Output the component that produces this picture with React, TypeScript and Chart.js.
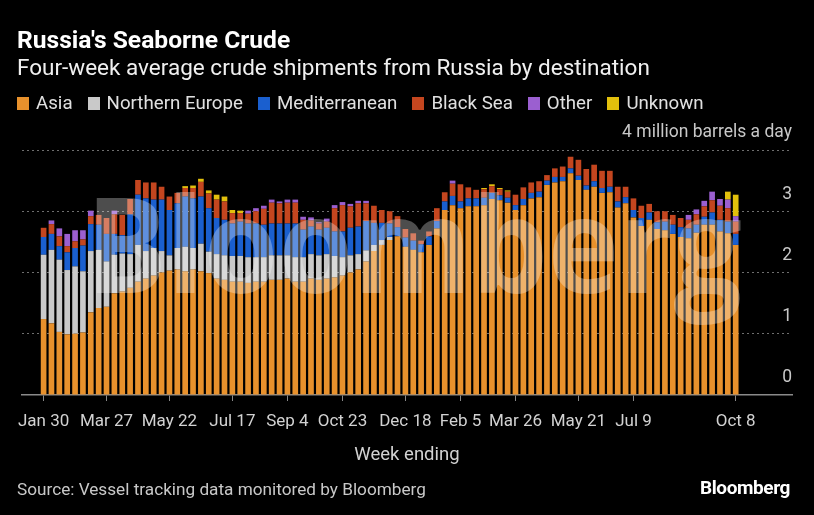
import React, { useEffect, useRef } from "react";
import { Chart, registerables } from "chart.js";

Chart.register(...registerables);

const FONT = "Roboto, 'Noto Sans', sans-serif";

// Week-ending dates (weekly, Jan 30 2022 .. Oct 8 2023)
const firstWeekEnding = "2022-01-30";
const weekCount = 89;
const weeks: string[] = [];
for (let i = 0; i < weekCount; i++) {
  const d = new Date(firstWeekEnding + "T00:00:00Z");
  d.setUTCDate(d.getUTCDate() + 7 * i);
  weeks.push(d.toISOString().slice(0, 10));
}

const tickIndex = [0, 8, 16, 24, 31, 38, 46, 53, 60, 68, 75, 88];
const tickLabels = ["Jan 30", "Mar 27", "May 22", "Jul 17", "Sep 4", "Oct 23", "Dec 18", "Feb 5", "Mar 26", "May 21", "Jul 9", "Oct 8"];
const yTicks = [0, 1, 2, 3, 4];

const seriesNames = ["Asia", "Northern Europe", "Mediterranean", "Black Sea", "Other", "Unknown"];
const seriesColors = ["#e8912c", "#c9c9c9", "#1a5fcf", "#c4461f", "#9b5fd0", "#e2c00c"];

const asia = [
  1.24, 1.17, 1.03, 0.99, 1.0, 1.02, 1.35, 1.42, 1.44, 1.66, 1.69,
  1.75, 1.85, 1.9, 1.95, 2.0, 2.03, 2.05, 2.02, 2.05, 2.02, 1.99,
  1.9, 1.88, 1.85, 1.85, 1.83, 1.85, 1.85, 1.88, 1.88, 1.9, 1.85, 1.85,
  1.9, 1.88, 1.9, 1.92, 1.95, 2.0, 2.05, 2.18, 2.35, 2.45, 2.53,
  2.59, 2.42, 2.37, 2.33, 2.45, 2.72, 3.02, 3.1, 3.05, 3.08, 3.08, 3.1,
  3.2, 3.18, 3.14, 3.02, 3.1, 3.21, 3.23, 3.43, 3.47, 3.49, 3.62,
  3.51, 3.35, 3.4, 3.3, 3.31, 3.06, 3.13, 2.9, 2.76, 2.86, 2.71,
  2.69, 2.63, 2.58, 2.56, 2.65, 2.78, 2.78, 2.67, 2.64, 2.45,
];
const northernEurope = [
  1.05, 1.2, 1.18, 1.05, 1.1, 1.0, 1.0, 0.95, 0.74, 0.63, 0.62,
  0.55, 0.6, 0.45, 0.45, 0.35, 0.25, 0.35, 0.4, 0.35, 0.45, 0.35,
  0.4, 0.4, 0.42, 0.42, 0.42, 0.4, 0.4, 0.4, 0.4, 0.38, 0.4, 0.4,
  0.4, 0.4, 0.4, 0.35, 0.3, 0.28, 0.25, 0.18, 0.1, 0.08, 0.05,
  0, 0, 0, 0, 0, 0, 0, 0, 0, 0, 0, 0,
  0, 0, 0, 0, 0, 0, 0, 0, 0, 0, 0,
  0, 0, 0, 0, 0, 0, 0, 0, 0, 0, 0,
  0, 0, 0, 0, 0, 0, 0, 0, 0, 0,
];
const mediterranean = [
  0.29, 0.26, 0.22, 0.29, 0.3, 0.42, 0.44, 0.41, 0.45, 0.34, 0.3,
  0.65, 0.82, 0.86, 0.79, 0.84, 0.74, 0.73, 0.82, 0.81, 0.77, 0.71,
  0.59, 0.58, 0.53, 0.56, 0.55, 0.55, 0.53, 0.52, 0.52, 0.52, 0.55, 0.45,
  0.45, 0.42, 0.43, 0.4, 0.42, 0.45, 0.45, 0.48, 0.36, 0.28, 0.22,
  0.15, 0.15, 0.15, 0.13, 0.14, 0.12, 0.14, 0.15, 0.11, 0.13, 0.13, 0.12,
  0.1, 0.08, 0.08, 0.08, 0.1, 0.09, 0.09, 0.07, 0.09, 0.07, 0.08,
  0.07, 0.07, 0.09, 0.08, 0.09, 0.1, 0.1, 0.12, 0.13, 0.12, 0.11,
  0.14, 0.15, 0.16, 0.16, 0.13, 0.13, 0.2, 0.19, 0.19, 0.18,
];
const blackSea = [
  0.15, 0.16, 0.16, 0.1, 0.11, 0.1, 0.13, 0.16, 0.26, 0.32, 0.33,
  0.25, 0.24, 0.26, 0.28, 0.21, 0.22, 0.17, 0.14, 0.17, 0.24, 0.24,
  0.3, 0.3, 0.17, 0.14, 0.16, 0.2, 0.26, 0.34, 0.33, 0.34, 0.34, 0.16,
  0.1, 0.1, 0.1, 0.38, 0.43, 0.35, 0.38, 0.29, 0.28, 0.21, 0.2,
  0.18, 0.14, 0.12, 0.06, 0.08, 0.21, 0.15, 0.2, 0.28, 0.18, 0.14, 0.14,
  0.11, 0.1, 0.1, 0.17, 0.19, 0.17, 0.17, 0.09, 0.14, 0.17, 0.19,
  0.26, 0.27, 0.27, 0.28, 0.26, 0.24, 0.17, 0.19, 0.2, 0.14, 0.18,
  0.17, 0.16, 0.15, 0.14, 0.17, 0.17, 0.2, 0.23, 0.22, 0.2,
];
const other = [
  0, 0.06, 0.13, 0.2, 0.18, 0.15, 0.09, 0, 0, 0.06, 0,
  0, 0, 0, 0, 0, 0, 0, 0, 0, 0, 0,
  0, 0, 0, 0, 0.05, 0.05, 0.05, 0.05, 0.03, 0.05, 0.05, 0.05,
  0.05, 0.02, 0.05, 0.05, 0.05, 0.04, 0.04, 0.04, 0, 0, 0,
  0, 0, 0, 0, 0, 0, 0, 0.05, 0, 0, 0, 0,
  0, 0, 0, 0, 0, 0, 0, 0, 0, 0, 0,
  0, 0, 0, 0, 0, 0, 0, 0, 0, 0, 0,
  0, 0, 0, 0.08, 0.08, 0.09, 0.14, 0.11, 0.14, 0.09,
];
const unknown = [
  0, 0, 0, 0, 0, 0, 0, 0, 0, 0, 0,
  0, 0, 0, 0, 0, 0, 0, 0.03, 0.04, 0.05, 0.05,
  0.08, 0.08, 0.05, 0.04, 0, 0, 0, 0, 0, 0, 0, 0,
  0, 0, 0, 0, 0, 0, 0, 0, 0, 0, 0,
  0, 0, 0, 0, 0, 0, 0, 0, 0, 0, 0, 0.02,
  0.03, 0.02, 0.02, 0, 0, 0, 0, 0, 0, 0, 0,
  0, 0, 0, 0, 0, 0, 0, 0, 0, 0, 0,
  0, 0, 0, 0, 0, 0, 0, 0, 0.13, 0.35,
];

const watermarkPlugin = {
  id: "bbgWatermark",
  afterDatasetsDraw(chart: any) {
    const { ctx } = chart;
    ctx.save();
    ctx.font = "bold 133px 'Open Sans'";
    const w = ctx.measureText("Bloomberg").width;
    ctx.translate(86, 293);
    ctx.scale(656 / w, 1);
    ctx.fillStyle = "rgba(255,255,255,0.3)";
    ctx.textBaseline = "alphabetic";
    ctx.fillText("Bloomberg", 0, 0);
    ctx.restore();
  },
};

export default function App() {
  const ref = useRef<HTMLCanvasElement>(null);

  useEffect(() => {
    document.body.style.margin = "0";
    document.body.style.background = "#000";
    const series = [asia, northernEurope, mediterranean, blackSea, other, unknown];
    const chart = new Chart(ref.current as HTMLCanvasElement, {
      type: "bar",
      data: {
        datasets: series.map((vals, s) => ({
          label: seriesNames[s],
          data: vals.map((v, i) => ({ x: i, y: v, week: weeks[i] })),
          backgroundColor: seriesColors[s],
          borderWidth: 0,
          barPercentage: 0.72,
          categoryPercentage: 1,
        })),
      } as any,
      options: {
        animation: false,
        responsive: false,
        maintainAspectRatio: false,
        layout: { padding: { left: 22, right: 22, top: 150, bottom: 0 } },
        plugins: { legend: { display: false }, tooltip: { enabled: false } },
        scales: {
          x: {
            type: "linear",
            stacked: true,
            offset: false,
            min: -2.746,
            max: 95.158,
            afterBuildTicks: (s: any) => {
              s.ticks = tickIndex.map((v) => ({ value: v }));
            },
            afterFit: (s: any) => {
              s.height = 120;
            },
            ticks: {
              autoSkip: false,
              maxRotation: 0,
              minRotation: 0,
              color: "#d2d2d2",
              padding: 11,
              font: { family: FONT, size: 17 },
              callback: (v: any) => {
                const k = tickIndex.indexOf(Number(v));
                return k >= 0 ? tickLabels[k] : "";
              },
            },
            grid: {
              display: true,
              offset: false,
              drawOnChartArea: false,
              drawTicks: true,
              tickLength: 6,
              color: "#8a8a8a",
              lineWidth: 1,
            },
            border: { display: true, color: "#8a8a8a", width: 1.5 },
            title: {
              display: true,
              text: "Week ending",
              color: "#d2d2d2",
              font: { family: FONT, size: 18.5 },
              padding: { top: 0, bottom: 49 },
            },
          },
          y: {
            position: "right",
            stacked: true,
            min: 0,
            max: 4,
            afterBuildTicks: (s: any) => {
              s.ticks = yTicks.map((v) => ({ value: v }));
            },
            afterFit: (s: any) => {
              s.width = 0;
            },
            ticks: {
              mirror: true,
              padding: 0,
              labelOffset: -17,
              color: "#c8c8c8",
              font: { family: FONT, size: 17.5 },
              callback: (v: any) => (Number(v) === 4 ? "4 million barrels a day" : String(v)),
            },
            grid: {
              drawTicks: false,
              color: (c: any) => (c.tick && c.tick.value === 0 ? "rgba(0,0,0,0)" : "#6e6e6e"),
              lineWidth: 1,
            },
            border: { display: false, dash: [2, 3] },
          },
        },
      } as any,
      plugins: [watermarkPlugin],
    });
    return () => chart.destroy();
  }, []);

  return (
    <div style={{ position: "relative", width: 814, height: 515, background: "#000", overflow: "hidden", fontFamily: FONT }}>
      <canvas ref={ref} width={814} height={515} style={{ position: "absolute", left: 0, top: 0 }} />
      <div style={{ position: "absolute", left: 17, top: 28, fontSize: 24.6, fontWeight: 700, color: "#fff", lineHeight: 1 }}>
        Russia's Seaborne Crude
      </div>
      <div style={{ position: "absolute", left: 17, top: 56, fontSize: 22.5, color: "#f0f0f0", lineHeight: 1 }}>
        Four-week average crude shipments from Russia by destination
      </div>
      <div style={{ position: "absolute", left: 17, top: 94, display: "flex", alignItems: "center", fontSize: 18.7, color: "#e0e0e0", lineHeight: 1 }}>
        {seriesNames.map((n, i) => (
          <div key={n} style={{ display: "flex", alignItems: "center", marginRight: 15 }}>
            <span style={{ width: 12, height: 13, background: seriesColors[i], display: "inline-block", marginRight: 7 }} />
            <span>{n}</span>
          </div>
        ))}
      </div>
      <div style={{ position: "absolute", left: 17, top: 481, fontSize: 17.2, color: "#c8c8c8", lineHeight: 1 }}>
        Source: Vessel tracking data monitored by Bloomberg
      </div>
      <div style={{ position: "absolute", right: 24, top: 478, fontSize: 19, fontWeight: 700, color: "#fff", lineHeight: 1, letterSpacing: -0.4 }}>
        Bloomberg
      </div>
    </div>
  );
}
